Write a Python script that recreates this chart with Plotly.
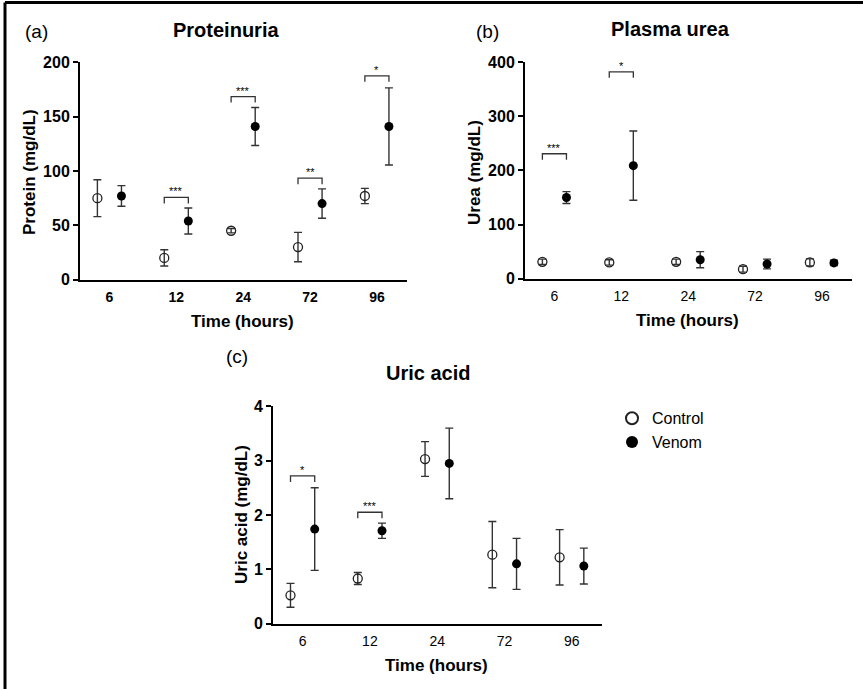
import plotly.graph_objects as go

W, H = 863, 689          # reference picture size
H_FIG = 710              # figure height that fills the captured page height

# ---------------- data ----------------
time_labels = ["6", "12", "24", "72", "96"]

protein_control = [75, 20, 45, 30, 77]
protein_control_err = [17, 7.5, 2, 13.5, 7]
protein_venom = [77, 54, 141, 70, 141]
protein_venom_err = [9.5, 12, 17.5, 13.5, 35.5]

urea_control = [31, 30, 31, 17.5, 30]
urea_control_err = [5, 5, 5, 5.5, 6.5]
urea_venom = [150, 209, 35, 27, 29]
urea_venom_err = [11, 64, 15, 9, 5]

uric_control = [0.52, 0.83, 3.03, 1.27, 1.22]
uric_control_err = [0.22, 0.11, 0.32, 0.61, 0.51]
uric_venom = [1.74, 1.71, 2.95, 1.10, 1.06]
uric_venom_err = [0.76, 0.14, 0.65, 0.47, 0.33]

# significance brackets: (group index, bracket level, label)
protein_sig = [(1, 75.7, "***"), (2, 168.5, "***"), (3, 93.4, "**"), (4, 187.6, "*")]
urea_sig = [(0, 231, "***"), (1, 382.6, "*")]
uric_sig = [(0, 2.72, "*"), (1, 2.05, "***")]

# ---------------- layout helpers ----------------
FONT = "Liberation Sans, Arial, sans-serif"
OFF = 0.18
XR = [-0.44, 4.45]


def px(x):
    return x / W


def py(y):
    return 1 - y / H


panels = [
    dict(xa="x", ya="y", xdom=[px(80), px(407)], ydom=[py(279), py(63)],
         yr=[0, 200], dtick=50, ctrl=protein_control, ctrl_e=protein_control_err,
         ven=protein_venom, ven_e=protein_venom_err, sig=protein_sig, xbold=True),
    dict(xa="x2", ya="y2", xdom=[px(525), px(852)], ydom=[py(278), py(63)],
         yr=[0, 400], dtick=100, ctrl=urea_control, ctrl_e=urea_control_err,
         ven=urea_venom, ven_e=urea_venom_err, sig=urea_sig, xbold=False),
    dict(xa="x3", ya="y3", xdom=[px(273), px(602)], ydom=[py(621), py(405)],
         yr=[0, 4], dtick=1, ctrl=uric_control, ctrl_e=uric_control_err,
         ven=uric_venom, ven_e=uric_venom_err, sig=uric_sig, xbold=False),
]

fig = go.Figure()
shapes = []
annotations = []
idx = list(range(len(time_labels)))

for k, p in enumerate(panels):
    first = k == 0
    fig.add_trace(go.Scatter(
        x=[i - OFF for i in idx], y=p["ctrl"], mode="markers", name="Control",
        xaxis=p["xa"], yaxis=p["ya"], showlegend=first, legendgroup="c",
        marker=dict(symbol="circle-open", size=9, color="#222", line=dict(width=1.3)),
        error_y=dict(type="data", array=p["ctrl_e"], color="#333", thickness=1.4, width=4),
        cliponaxis=False,
    ))
    fig.add_trace(go.Scatter(
        x=[i + OFF for i in idx], y=p["ven"], mode="markers", name="Venom",
        xaxis=p["xa"], yaxis=p["ya"], showlegend=first, legendgroup="v",
        marker=dict(symbol="circle", size=9, color="#000"),
        error_y=dict(type="data", array=p["ven_e"], color="#333", thickness=1.4, width=4),
        cliponaxis=False,
    ))
    # brackets
    hpx = (p["ydom"][1] - p["ydom"][0]) * H
    leg = 6 / hpx * (p["yr"][1] - p["yr"][0])
    for g, lvl, lab in p["sig"]:
        x0, x1 = g - OFF, g + OFF
        shapes.append(dict(
            type="path", xref=p["xa"], yref=p["ya"],
            path=f"M {x0},{lvl - leg} L {x0},{lvl} L {x1},{lvl} L {x1},{lvl - leg}",
            line=dict(color="#333", width=1.3),
        ))
        annotations.append(dict(
            x=g, y=lvl, xref=p["xa"], yref=p["ya"], text=lab, showarrow=False,
            yanchor="bottom", yshift=-2, font=dict(family=FONT, size=11, color="#000"),
        ))

axis_common = dict(showgrid=False, zeroline=False, showline=True, linecolor="#000",
                   linewidth=2)
lay = {}
for k, p in enumerate(panels):
    sx = "" if k == 0 else str(k + 1)
    lay["xaxis" + sx] = dict(
        axis_common, domain=p["xdom"], range=XR, anchor=p["ya"],
        tickmode="array", tickvals=idx, ticktext=time_labels, ticks="",
        tickfont=dict(family=FONT, size=14, color="#000",
                      weight="bold" if p["xbold"] else "normal"),
        ticklabelstandoff=4,
    )
    lay["yaxis" + sx] = dict(
        axis_common, domain=p["ydom"], range=p["yr"], anchor=p["xa"],
        tick0=0, dtick=p["dtick"], ticks="outside", ticklen=5, tickwidth=2,
        tickcolor="#000",
        tickfont=dict(family=FONT, size=16, color="#000", weight="bold"),
    )


def txt(x, y, s, size, bold=False, angle=0):
    annotations.append(dict(
        x=px(x), y=py(y), xref="paper", yref="paper", text=s, showarrow=False,
        textangle=angle, xanchor="center", yanchor="middle",
        font=dict(family=FONT, size=size, color="#000", weight="bold" if bold else "normal"),
    ))


# panel titles and labels
txt(226, 31, "Proteinuria", 20, True)
txt(670, 30, "Plasma urea", 20, True)
txt(428, 372, "Uric acid", 20, True)
txt(36, 32, "(a)", 19)
txt(487, 32, "(b)", 19)
txt(237, 355, "(c)", 19)
# axis titles
txt(242, 321, "Time (hours)", 17, True)
txt(687, 320, "Time (hours)", 17, True)
txt(437, 663, "Time (hours)", 17, True)
txt(30, 172, "Protein (mg/dL)", 17, True, -90)
txt(475, 172, "Urea (mg/dL)", 17, True, -90)
txt(242, 513, "Uric acid (mg/dL)", 17, True, -90)

# frame lines (left and top)
shapes.append(dict(type="line", xref="paper", yref="paper", x0=px(5), x1=px(5),
                   y0=0, y1=py(3.5), line=dict(color="#000", width=3)))
shapes.append(dict(type="line", xref="paper", yref="paper", x0=px(5), x1=1,
                   y0=py(3.5), y1=py(3.5), line=dict(color="#000", width=3)))

fig.update_layout(
    width=W, height=H_FIG, margin=dict(l=0, r=0, t=0, b=0),
    paper_bgcolor="white", plot_bgcolor="white",
    showlegend=True,
    legend=dict(x=px(612), y=py(400), xanchor="left", yanchor="top",
                font=dict(family=FONT, size=16, color="#000"),
                bgcolor="rgba(0,0,0,0)", itemsizing="constant", tracegroupgap=0),
    shapes=shapes, annotations=annotations, **lay,
)

fig.write_html(
    "out.html",
    config={"displayModeBar": False},
    post_script=(
        "var s=document.createElement('style');"
        "s.textContent='html,body{margin:0;padding:0;overflow:hidden;}';"
        "document.head.appendChild(s);"
        "var d=document.getElementById('{plot_id}');"
        "d.style.position='fixed';d.style.top='-9px';d.style.left='0';"
    ),
)
